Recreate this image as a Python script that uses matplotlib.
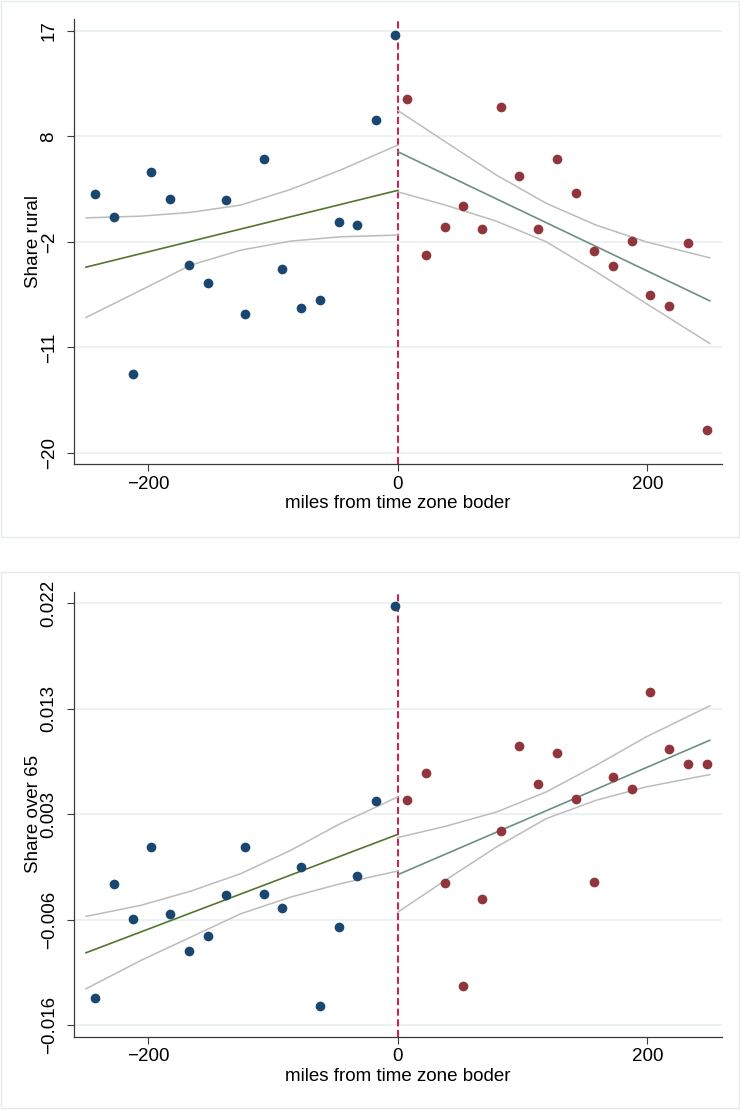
import matplotlib.pyplot as plt
from matplotlib.patches import Rectangle

plt.rcParams['font.family'] = ['Liberation Sans', 'DejaVu Sans']

# bin centres (miles from the border)
miles_west = [-242.5, -227.5, -212.5, -197.5, -182.5, -167.5, -152.5, -137.5, -122.5,
              -107.5, -92.5, -77.5, -62.5, -47.5, -32.5, -17.5, -2.5]
miles_east = [7.5, 22.5, 37.5, 52.5, 67.5, 82.5, 97.5, 112.5, 127.5,
              142.5, 157.5, 172.5, 187.5, 202.5, 217.5, 232.5, 247.5]

# share rural, binned means
rural_west = [2.66, 0.67, -13.08, 4.66, 2.22, -3.57, -5.12, 2.15, -7.81,
              5.72, -3.92, -7.34, -6.61, 0.23, -0.01, 9.14, 16.61]
rural_east = [11.01, -2.67, -0.24, 1.60, -0.42, 10.31, 4.30, -0.36, 5.75,
              2.80, -2.32, -3.66, -1.41, -6.20, -7.14, -1.59, -18.01]

# share over 65, binned means
old_west = [-0.01357, -0.00326, -0.00645, 0.00001, -0.00600, -0.00936, -0.00795, -0.00425, 0.00001,
            -0.00416, -0.00546, -0.00176, -0.01426, -0.00720, -0.00257, 0.00416, 0.02175]
old_east = [0.00431, 0.00671, -0.00320, -0.01246, -0.00467, 0.00148, 0.00917, 0.00569, 0.00854,
            0.00440, -0.00311, 0.00638, 0.00524, 0.01401, 0.00884, 0.00749, 0.00749]

# linear fits and 95% bands on each side of the border
fit_x_west = [-250, 0]
fit_x_east = [0, 250]
band_x_west = [-250, -206, -166, -126, -86, -46, 0]
band_x_east = [0, 38, 79, 119, 159, 199, 250]

rural_fit_west = [-3.72, 3.01]
rural_fit_east = [6.39, -6.67]
rural_hi_west = [0.60, 0.75, 1.08, 1.72, 3.09, 4.79, 6.98]
rural_lo_west = [-8.13, -5.74, -3.54, -2.23, -1.44, -1.06, -0.91]
rural_hi_east = [10.01, 7.27, 4.35, 1.87, -0.04, -1.50, -2.90]
rural_lo_east = [2.88, 1.72, 0.31, -1.50, -4.13, -6.90, -10.41]

old_fit_west = [-0.00948, 0.00118]
old_fit_east = [-0.00245, 0.00965]
old_hi_west = [-0.00621, -0.00521, -0.00393, -0.00236, -0.00026, 0.00215, 0.00455]
old_lo_west = [-0.01272, -0.01017, -0.00807, -0.00597, -0.00447, -0.00326, -0.00212]
old_hi_east = [0.00089, 0.00190, 0.00319, 0.00500, 0.00740, 0.00995, 0.01275]
old_lo_east = [-0.00582, -0.00296, 0.00004, 0.00260, 0.00425, 0.00545, 0.00656]

rural_ticks = [-20, -10.75, -1.5, 7.75, 17]
rural_labels = ['\u221220', '\u221211', '\u22122', '8', '17']
old_ticks = [-0.016, -0.0065, 0.003, 0.0125, 0.022]
old_labels = ['\u22120.016', '\u22120.006', '0.003', '0.013', '0.022']
x_ticks = [-200, 0, 200]
x_labels = ['\u2212200', '0', '200']

NAVY = '#1a476f'
MAROON = '#90353b'
GREEN = '#55752f'
TEAL = '#6e8e84'
BAND = '#bcbcbc'
XLINE = '#c8264f'
GRID = '#e9f0f2'
AXIS = '#3a3a3a'


def draw_panel(ax, yw, ye, fw, fe, hw, lw_, he, le, ticks, labels, ylim, ylabel):
    ax.set_xlim(-259.6, 259.6)
    ax.set_ylim(*ylim)
    ax.set_yticks(ticks)
    ax.set_yticklabels(labels, rotation=90, va='center')
    ax.set_xticks(x_ticks)
    ax.set_xticklabels(x_labels)
    ax.grid(axis='y', color=GRID, lw=1.2)
    ax.set_axisbelow(True)
    for s in ['top', 'right']:
        ax.spines[s].set_visible(False)
    for s in ['left', 'bottom']:
        ax.spines[s].set_color(AXIS)
        ax.spines[s].set_linewidth(0.9)
    ax.tick_params(axis='both', length=5, width=0.8, color=AXIS, labelsize=13.5)
    ax.tick_params(axis='y', pad=6.8)
    ax.tick_params(axis='x', pad=3.5)

    ax.axvline(0, color=XLINE, lw=1.5, ls=(0, (3.4, 1.7)), zorder=1)

    # confidence bands
    ax.plot(band_x_west, hw, color=BAND, lw=1.1, zorder=2)
    ax.plot(band_x_west, lw_, color=BAND, lw=1.1, zorder=2)
    ax.plot(band_x_east, he, color=BAND, lw=1.1, zorder=2)
    ax.plot(band_x_east, le, color=BAND, lw=1.1, zorder=2)
    # fitted lines
    ax.plot(fit_x_west, fw, color=GREEN, lw=1.2, zorder=3)
    ax.plot(fit_x_east, fe, color=TEAL, lw=1.2, zorder=3)
    # binned means
    ax.plot(miles_west, yw, 'o', color=NAVY, ms=7.0, mew=0, zorder=4)
    ax.plot(miles_east, ye, 'o', color=MAROON, ms=7.0, mew=0, zorder=4)

    ax.set_xlabel('miles from time zone boder', fontsize=13.5)
    ax.xaxis.set_label_coords(0.5, -0.07)
    ax.set_ylabel(ylabel, fontsize=13.5)
    ax.yaxis.set_label_coords(-0.049, 0.5)


fig = plt.figure(figsize=(7.4, 11.1), dpi=100)

# light frames around each graph region
fig.patches.append(Rectangle((0.002, 0.5162), 0.9965, 0.4828, transform=fig.transFigure,
                             fill=False, ec='#e4ebed', lw=1.0))
fig.patches.append(Rectangle((0.002, 0.0018), 0.9965, 0.4829, transform=fig.transFigure,
                             fill=False, ec='#e4ebed', lw=1.0))

ax1 = fig.add_axes([0.1, 0.5817, 0.8753, 0.4009])
draw_panel(ax1, rural_west, rural_east, rural_fit_west, rural_fit_east,
           rural_hi_west, rural_lo_west, rural_hi_east, rural_lo_east,
           rural_ticks, rural_labels, (-21.0, 18.0), 'Share rural')

ax2 = fig.add_axes([0.1, 0.0662, 0.8753, 0.4007])
draw_panel(ax2, old_west, old_east, old_fit_west, old_fit_east,
           old_hi_west, old_lo_west, old_hi_east, old_lo_east,
           old_ticks, old_labels, (-0.01702, 0.02302), 'Share over 65')

fig.savefig('out.png', dpi=100)
